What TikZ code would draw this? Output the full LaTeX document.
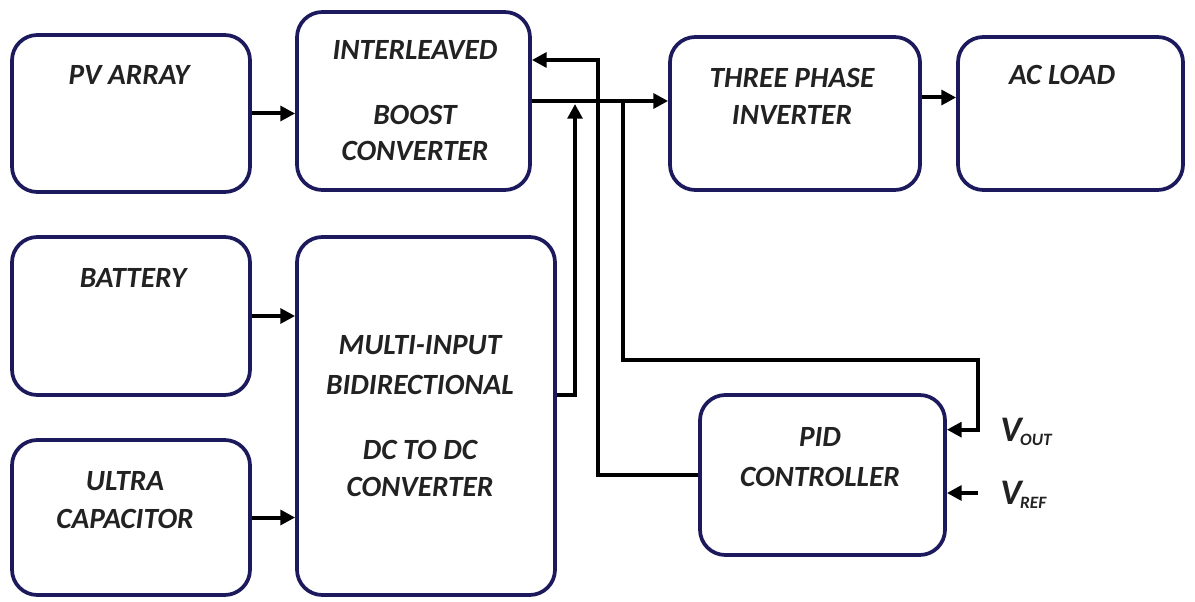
\documentclass[tikz,border=0pt]{standalone}
\usepackage{fontspec}
\setmainfont{Carlito}
\usetikzlibrary{fit,arrows.meta}
\definecolor{boxcol}{RGB}{28,26,92}
\definecolor{txtcol}{RGB}{34,34,34}
\tikzset{
  blk/.style={draw=boxcol, line width=2.8pt, rounded corners=19pt, inner sep=0pt},
  lbl/.style={font=\fontsize{22}{26}\selectfont\bfseries\itshape, text=txtcol, inner sep=0pt, align=center},
  arr/.style={draw=black, line width=3pt, -{Triangle[length=11pt,width=11pt]}},
  ln/.style={draw=black, line width=3pt}
}
\begin{document}
\begin{tikzpicture}[x=0.75pt,y=-0.75pt]
\useasboundingbox (0,0) rectangle (1195,602);
% boxes
\node[blk, fit={(12,35)(250,192)}] (pv) {};
\node[blk, fit={(297,12)(530,190)}] (boost) {};
\node[blk, fit={(670,37)(920,190)}] (inv) {};
\node[blk, fit={(958,37)(1183,190)}] (ac) {};
\node[blk, fit={(12,237)(250,395)}] (bat) {};
\node[blk, fit={(297,237)(555,595)}] (multi) {};
\node[blk, fit={(12,440)(250,595)}] (uc) {};
\node[blk, fit={(700,395)(945,555)}] (pid) {};
% labels
\node[lbl] (tpv) at (129,75) {PV ARRAY};
\node[lbl] (tb1) at (415,50) {INTERLEAVED};
\node[lbl] (tb2) at (415,115) {BOOST};
\node[lbl] (tb3) at (415,151) {CONVERTER};
\node[lbl] (ti1) at (792,78) {THREE PHASE};
\node[lbl] (ti2) at (792,115) {INVERTER};
\node[lbl] (tac) at (1062,75) {AC LOAD};
\node[lbl] (tbat) at (133,278) {BATTERY};
\node[lbl] (tu1) at (125,481) {ULTRA};
\node[lbl] (tu2) at (125,519) {CAPACITOR};
\node[lbl] (tm1) at (420,345) {MULTI-INPUT};
\node[lbl] (tm2) at (420,385) {BIDIRECTIONAL};
\node[lbl] (tm3) at (420,450) {DC TO DC};
\node[lbl] (tm4) at (420,487) {CONVERTER};
\node[lbl] (tp1) at (820,437) {PID};
\node[lbl] (tp2) at (820,477) {CONTROLLER};
\node[lbl, anchor=west] (vout) at (1000,432) {\fontsize{27}{28}\selectfont V\kern-1pt\raisebox{-3pt}{\fontsize{13}{14}\selectfont OUT}};
\node[lbl, anchor=west] (vref) at (1000,495) {\fontsize{27}{28}\selectfont V\kern-1pt\raisebox{-3pt}{\fontsize{13}{14}\selectfont REF}};
% junction coordinates
\coordinate (j1) at (575,104);
\coordinate (fb) at (598,60);
\coordinate (s1) at (623,103);
\coordinate (s2) at (978,360);
\coordinate (vr) at (978,493);
% connectors
\draw[arr] (pv.east) -- (pv.east -| boost.west);
\draw[arr] (boost.east) -- (boost.east -| inv.west);
\draw[arr] ([yshift=12pt]inv.east) -- ([yshift=12pt]inv.east -| ac.west);
\draw[arr] (bat.east) -- (bat.east -| multi.west);
\draw[arr] (uc.east) -- (uc.east -| multi.west);
\draw[arr] ([yshift=16pt]multi.east) -| (j1);
\draw[arr] (pid.west) -| (fb) -- (fb -| boost.east);
\draw[arr] (s1) |- (s2) |- ([yshift=34pt]pid.east);
\draw[arr] (vr) -- (vr -| pid.east);
\end{tikzpicture}
\end{document}
